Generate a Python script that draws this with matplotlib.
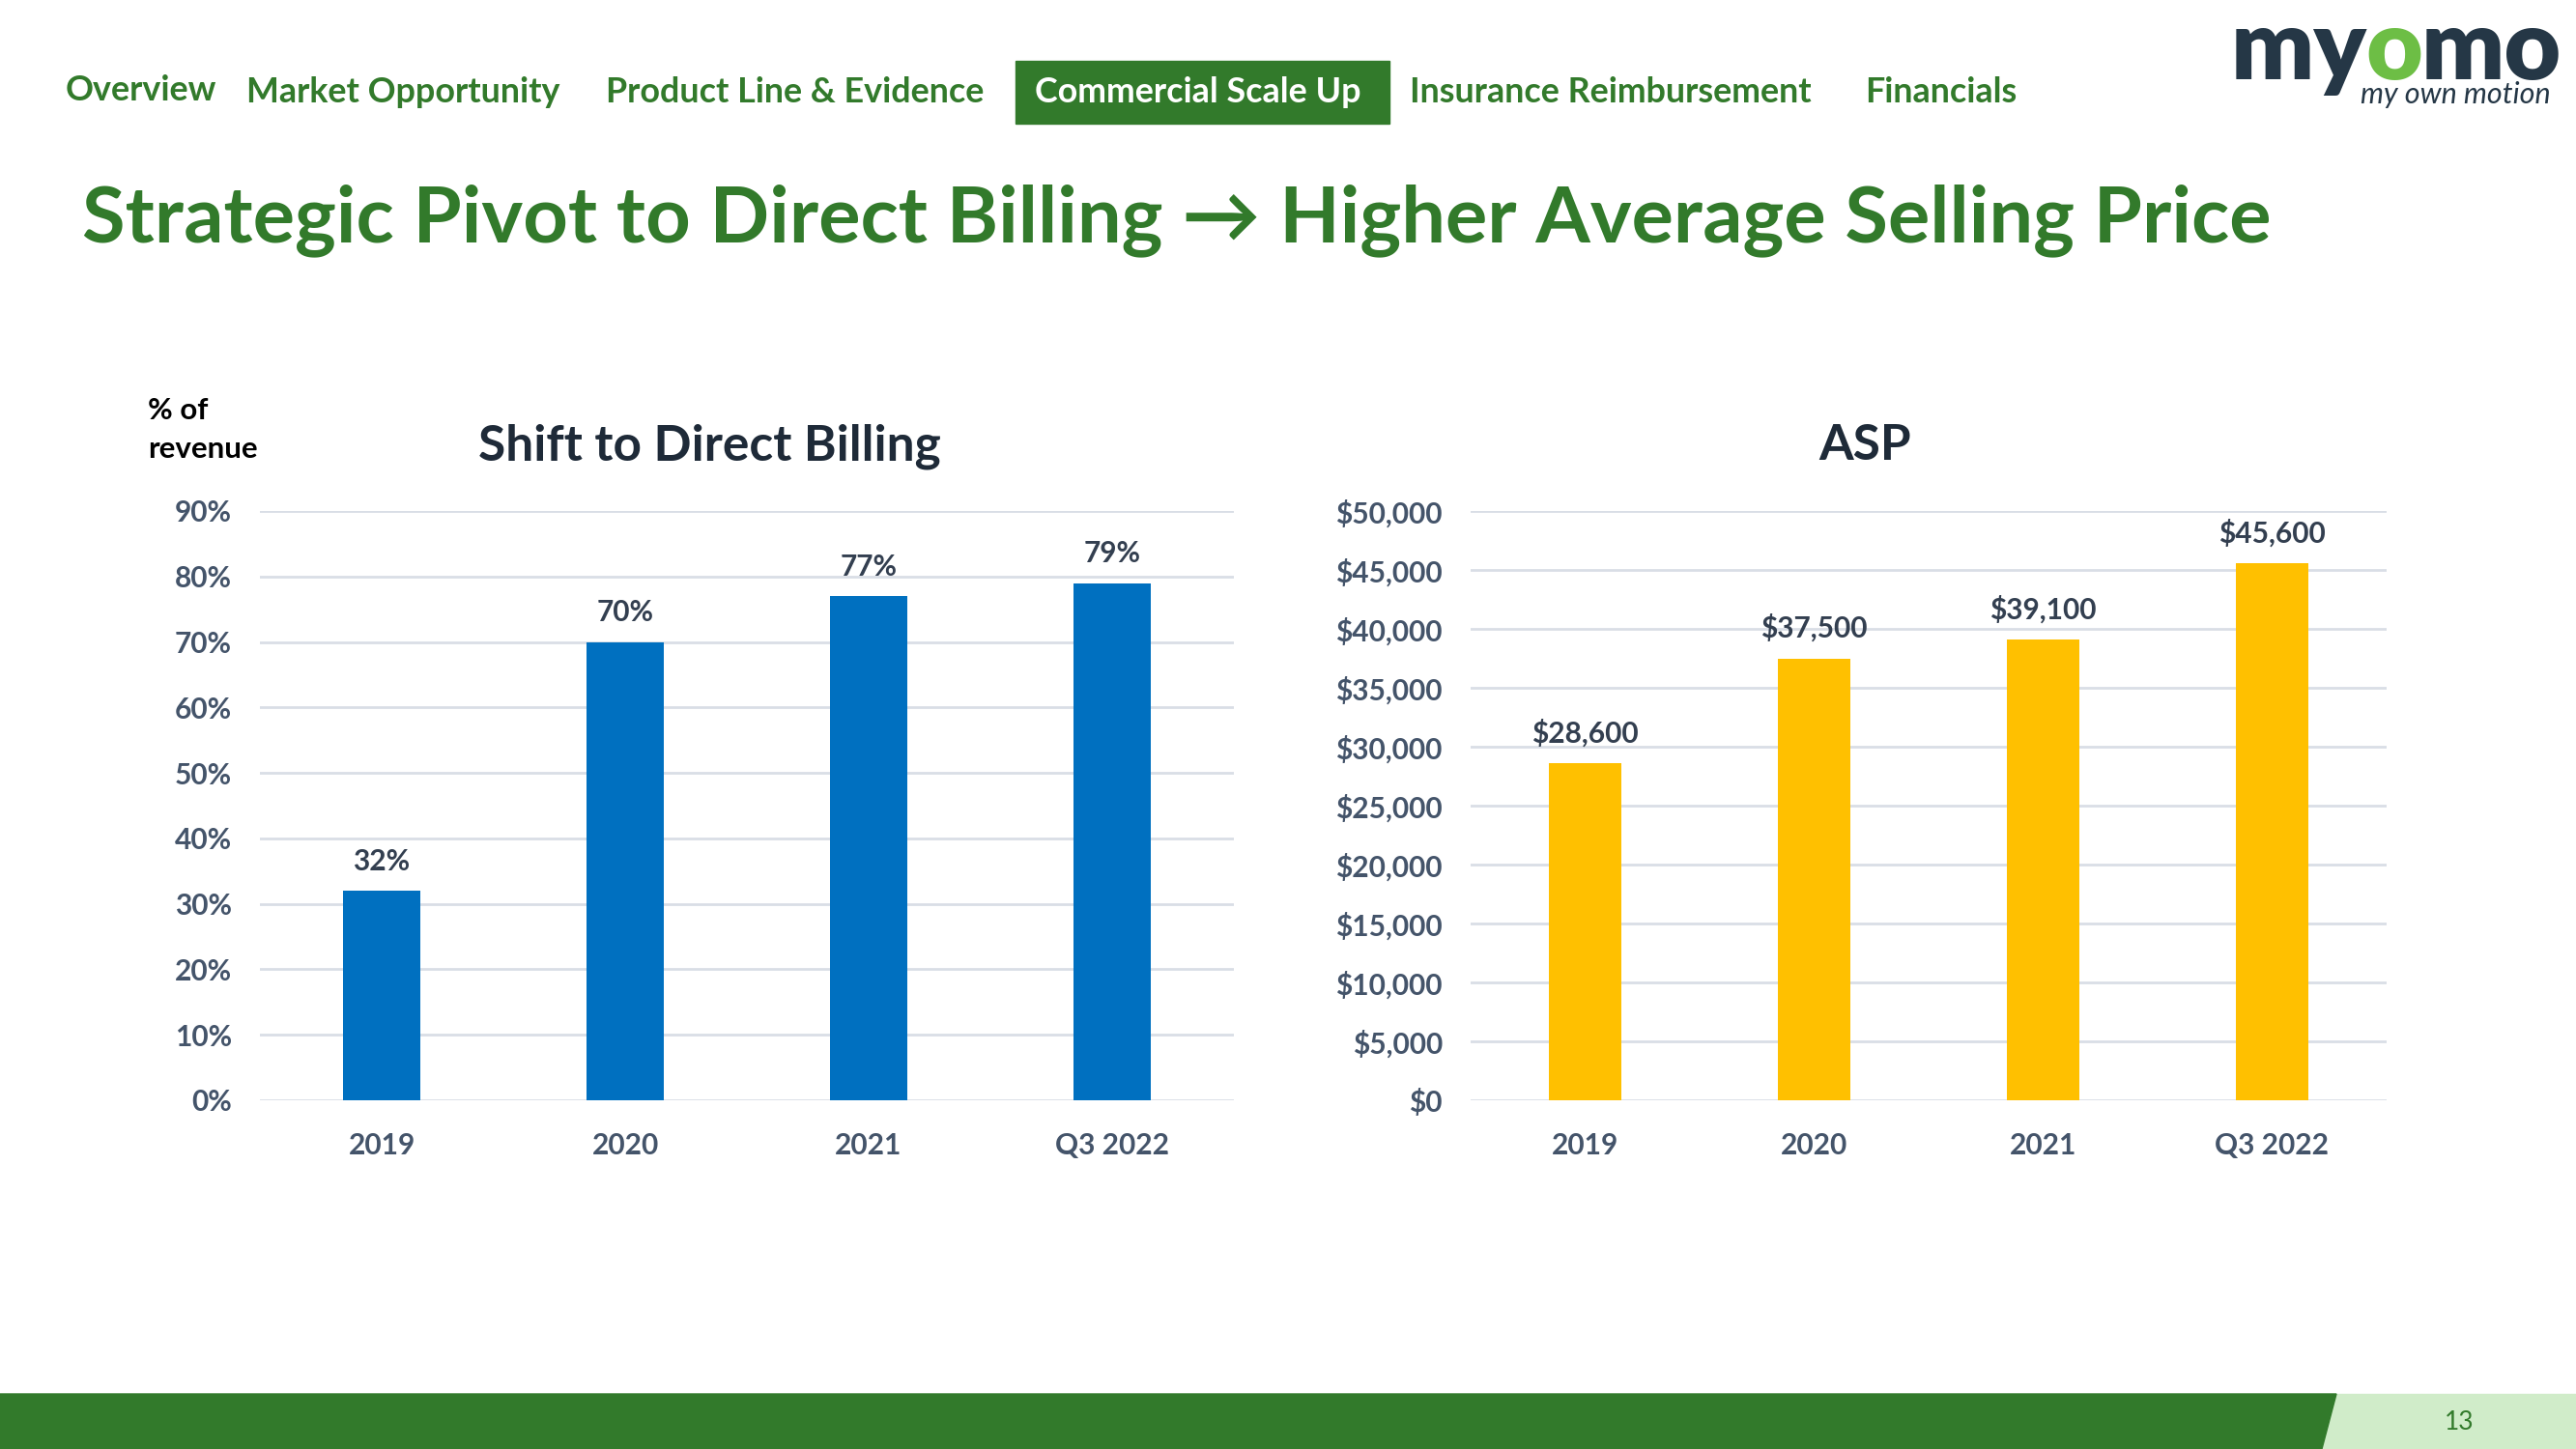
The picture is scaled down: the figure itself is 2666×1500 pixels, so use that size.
import matplotlib.pyplot as plt
from matplotlib.patches import Polygon, Rectangle

# Myomo slide 13: direct billing share and ASP bar charts.

years = ['2019', '2020', '2021', 'Q3 2022']
direct_pct = [32, 70, 77, 79]
asp = [28600, 37500, 39100, 45600]
pct_ticks = [0, 10, 20, 30, 40, 50, 60, 70, 80, 90]
asp_ticks = [0, 5000, 10000, 15000, 20000, 25000, 30000, 35000, 40000, 45000, 50000]
nav_items = ['Overview', 'Market Opportunity', 'Product Line & Evidence',
             'Commercial Scale Up', 'Insurance Reimbursement', 'Financials']
nav_x = [68, 255, 627, 1071, 1459, 1930]

GREEN = '#327A2B'
LIGHT_GREEN = '#D0ECC9'
BLUE = '#0070C0'
YELLOW = '#FFC000'
TICK = '#44546A'
LABEL = '#333F50'
GRID = '#D9DEE6'
FONT = ['Lato', 'DejaVu Sans']

plt.rcParams['font.family'] = FONT

W, H = 2666, 1500
fig = plt.figure(figsize=(W / 100, H / 100), dpi=100)
fig.patch.set_facecolor('white')


def fx(x):
    return x / W


def fy(y):
    return 1 - y / H


# navigation bar
for name, x in zip(nav_items, nav_x):
    if name == 'Commercial Scale Up':
        fig.patches.append(Rectangle((fx(1051), fy(128)), fx(1438 - 1051), (128 - 63) / H,
                                     transform=fig.transFigure, color=GREEN, zorder=0))
        fig.text(fx(x), fy(96), name, color='white', fontsize=25.8, fontweight='bold', va='center')
    else:
        fig.text(fx(x), fy(94 if name == 'Overview' else 96), name, color=GREEN,
                 fontsize=25.8, fontweight='bold', va='center')

# logo
r = fig.canvas.get_renderer()
x0 = fx(2309)
for part, col in [('my', '#253746'), ('o', '#6DBE45'), ('mo', '#253746')]:
    t = fig.text(x0, fy(82), part, color=col, fontsize=73, fontweight='heavy', va='baseline')
    bb = t.get_window_extent(renderer=r)
    x0 = x0 + bb.width / W - 0.0006
fig.text(fx(2640), fy(98), 'my own motion', color='#253746', fontsize=22,
         style='italic', ha='right', va='center')

# headline
fig.text(fx(85), fy(228), 'Strategic Pivot to Direct Billing \u2192 Higher Average Selling Price',
         color=GREEN, fontsize=58.5, fontweight='bold', va='center')

# chart titles
fig.text(fx(734), fy(462), 'Shift to Direct Billing', color='#1E2A38', fontsize=37,
         fontweight='bold', ha='center', va='center')
fig.text(fx(1930), fy(462), 'ASP', color='#1E2A38', fontsize=37,
         fontweight='bold', ha='center', va='center')
fig.text(fx(153), fy(445), '% of\nrevenue', color='black', fontsize=22.5,
         fontweight='bold', va='center', linespacing=1.5)


def bar_chart(rect, values, ticks, color, fmt, ymax, offset):
    ax = fig.add_axes(rect)
    xs = range(len(values))
    ax.bar(xs, values, width=0.32, color=color, zorder=3)
    ax.set_xlim(-0.5, len(values) - 0.5)
    ax.set_ylim(0, ymax)
    ax.set_yticks(ticks)
    ax.set_yticklabels([fmt(v) for v in ticks])
    ax.set_xticks(list(xs))
    ax.set_xticklabels(years)
    ax.grid(axis='y', color=GRID, linewidth=2, zorder=0)
    for s in ax.spines.values():
        s.set_visible(False)
    ax.tick_params(length=0, labelsize=21.5, labelcolor=TICK)
    ax.tick_params(axis='y', pad=21)
    ax.tick_params(axis='x', pad=24)
    for lab in ax.get_xticklabels() + ax.get_yticklabels():
        lab.set_fontweight('bold')
    for i, v in enumerate(values):
        ax.text(i, v + offset, fmt(v), color=LABEL, fontsize=21.5, fontweight='bold',
                ha='center', va='center')
    return ax


bar_chart([fx(269), fy(1139), fx(1277 - 269), (1139 - 529) / H], direct_pct, pct_ticks,
          BLUE, lambda v: f'{v}%', 90, 4.5)
bar_chart([fx(1522), fy(1139), fx(2470 - 1522), (1139 - 529) / H], asp, asp_ticks,
          YELLOW, lambda v: f'${v:,}', 50000, 2550)

# footer band
fig.patches.append(Rectangle((0, 0), 1, 57 / H, transform=fig.transFigure,
                             color=LIGHT_GREEN, zorder=0))
fig.patches.append(Polygon([(0, 0), (fx(2403), 0), (fx(2418), 57 / H), (0, 57 / H)],
                           closed=True, transform=fig.transFigure, color=GREEN, zorder=1))
fig.text(fx(2545), fy(1472), '13', color=GREEN, fontsize=19, ha='center', va='center')

fig.savefig('out.png', dpi=100, facecolor='white')
